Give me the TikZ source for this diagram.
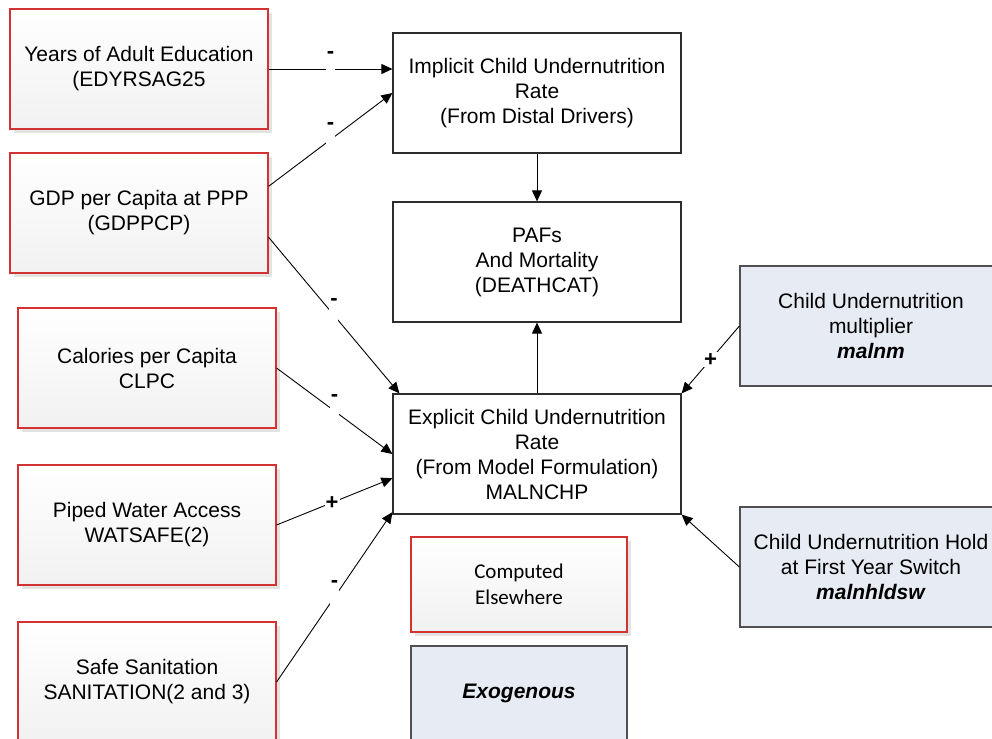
\documentclass[tikz,border=0pt]{standalone}
\usepackage{fontspec}
\setmainfont{Liberation Sans}
\newfontfamily\carlito{Carlito}
\usetikzlibrary{arrows.meta,shadows,calc}
\definecolor{srcred}{RGB}{210,50,50}
\definecolor{exofill}{RGB}{231,236,244}
\definecolor{exoline}{RGB}{80,80,80}
\definecolor{boxline}{RGB}{45,45,45}
\begin{document}
\begin{tikzpicture}[x=1pt,y=-1pt,
  txt/.style={align=center, font=\fontsize{21}{25}\selectfont, inner sep=0pt, text=black},
  srcbox/.style={txt, draw=srcred, line width=1.1pt, top color=white, bottom color=gray!11,
    minimum width=258pt, minimum height=120pt,
    drop shadow={shadow xshift=4pt, shadow yshift=-4pt, fill=gray!22, opacity=1}},
  exobox/.style={txt, fill=exofill, draw=exoline, line width=1.2pt,
    minimum width=262pt, minimum height=120pt},
  midbox/.style={txt, fill=white, draw=boxline, line width=1.2pt,
    minimum width=288pt, minimum height=120pt},
  link/.style={draw=black, line width=0.9pt, -{Triangle[length=11pt,width=10pt]}},
  minus/.style={fill=white, inner sep=0pt, minimum width=9pt, text height=10pt, text depth=30pt,
    font=\bfseries\fontsize{22}{22}\selectfont},
  plus/.style={fill=white, inner sep=1pt, font=\bfseries\fontsize{22}{22}\selectfont}]

\useasboundingbox (0,0) rectangle (992,738);
\clip (0,0) rectangle (992,738);

% driver variables computed in other parts of the model
\node[srcbox] (yrs) at (139,69)  {Years of Adult Education\\(EDYRSAG25};
\node[srcbox] (gdp) at (139,213) {GDP per Capita at PPP\\(GDPPCP)};
\node[srcbox] (cal) at (147,368) {Calories per Capita\\CLPC};
\node[srcbox] (pip) at (147,525) {Piped Water Access\\WATSAFE(2)};
\node[srcbox] (san) at (147,682) {Safe Sanitation\\SANITATION(2 and 3)};

% central computation chain
\node[midbox] (imp) at (537,93)  {Implicit Child Undernutrition\\Rate\\(From Distal Drivers)};
\node[midbox] (paf) at (537,262) {PAFs\\And Mortality\\(DEATHCAT)};
\node[midbox] (exp) at (537,454) {Explicit Child Undernutrition\\Rate\\(From Model Formulation)\\MALNCHP};

% exogenous parameters
\node[exobox] (mul)  at (871,326) {Child Undernutrition\\multiplier\\\textbf{\textit{malnm}}};
\node[exobox] (hold) at (871,567) {Child Undernutrition Hold\\at First Year Switch\\\textbf{\textit{malnhldsw}}};

% legend
\node[srcbox, minimum width=216pt, minimum height=95pt, font=\carlito\fontsize{21}{26}\selectfont]
  (cmp) at (519,584.5) {Computed\\Elsewhere};
\node[exobox, minimum width=216pt, minimum height=95pt] (exo) at (519,693.5) {\textbf{\textit{Exogenous}}};

% influences
\draw[link] (yrs.east) -- node[minus] {-} (imp.west |- yrs.east);
\draw[link] ($(gdp.north east)!0.28!(gdp.south east)$) -- node[minus] {-} (imp.west);
\draw[link] ($(gdp.north east)!0.7!(gdp.south east)$) -- node[minus] {-} ($(exp.north west)+(7,0)$);
\draw[link] (cal.east) -- node[minus] {-} (exp.west);
\draw[link] (pip.east) -- node[plus, pos=0.48] {+} ($(exp.north west)!0.7!(exp.south west)$);
\draw[link] (san.east) -- node[minus] {-} ($(exp.north west)!0.98!(exp.south west)$);
\draw[link] (mul.west) -- node[plus] {+} (exp.north east);
\draw[link] (hold.west) -- (exp.south east);
\draw[link] (imp.south) -- (paf.north);
\draw[link] (exp.north) -- (paf.south);
\end{tikzpicture}
\end{document}
